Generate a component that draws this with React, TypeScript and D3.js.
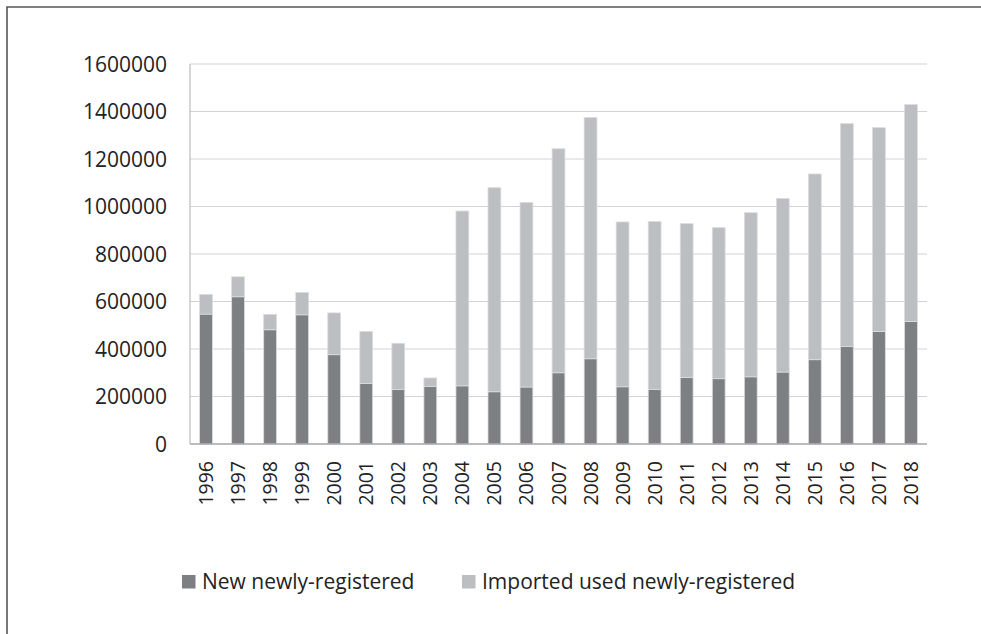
import React from "react";
import * as d3 from "d3";

const years = ["1996","1997","1998","1999","2000","2001","2002","2003","2004","2005","2006","2007","2008","2009","2010","2011","2012","2013","2014","2015","2016","2017","2018"];
const newReg = [547000,620000,481000,544000,376000,255000,229000,242000,245000,220000,240000,300000,359000,241000,229000,280000,275000,283000,303000,355000,411000,474000,516000];
const importedUsed = [83000,84000,65000,94000,176000,219000,195000,36000,736000,859000,777000,943000,1016000,694000,708000,648000,636000,691000,731000,782000,938000,858000,913000];
const yTicks = [0,200000,400000,600000,800000,1000000,1200000,1400000,1600000];
const seriesNames = ["New newly-registered", "Imported used newly-registered"];
const colors = ["#7e7f83", "#bdbec2"];

const W = 981, H = 634;
const M = { left: 190, right: 927, top: 64, bottom: 444 };
const FONT = "'Open Sans', 'Noto Sans', sans-serif";

export default function App() {
  const x = d3.scaleBand<string>().domain(years).range([M.left, M.right]).paddingInner(0.6).paddingOuter(0.3);
  const y = d3.scaleLinear().domain([0, 1600000]).range([M.bottom, M.top]);
  const stackData = years.map((yr, i) => ({ year: yr, a: newReg[i], b: importedUsed[i] }));
  const stacked = d3.stack<any>().keys(["a", "b"])(stackData);

  return (
    <div style={{ position: "fixed", left: 0, top: 0, width: W, height: H, background: "#fff" }}>
      <svg width={W} height={H} style={{ display: "block" }}>
        <rect x={0} y={0} width={W} height={H} fill="#fff" />
        <path d={`M7,${H + 5} L7,7 L${W + 5},7`} fill="none" stroke="#555" strokeWidth={1.6} />
        {yTicks.slice(1).map((t) => (
          <line key={t} x1={M.left} x2={M.right} y1={y(t)} y2={y(t)} stroke="#d3d3d3" strokeWidth={1.2} />
        ))}
        <line x1={M.left} x2={M.left} y1={M.top} y2={M.bottom} stroke="#bdbdbd" strokeWidth={1.2} />
        {stacked.map((s, si) => (
          <g key={si}>
            {s.map((d, i) => (
              <rect
                key={i}
                x={x(years[i])}
                width={x.bandwidth()}
                y={y(d[1])}
                height={y(d[0]) - y(d[1])}
                fill={colors[si]}
                stroke="#dcdcde"
                strokeWidth={0.8}
              />
            ))}
          </g>
        ))}
        <line x1={M.left} x2={M.right} y1={M.bottom} y2={M.bottom} stroke="#a6a6a6" strokeWidth={1.4} />
        {yTicks.map((t) => (
          <text key={t} x={167} y={y(t) + 7.5} textAnchor="end" fontFamily={FONT} fontSize={21} fill="#222">
            {t}
          </text>
        ))}
        {years.map((yr) => (
          <text
            key={yr}
            transform={`translate(${(x(yr) as number) + x.bandwidth() / 2},461) rotate(-90)`}
            textAnchor="end"
            dy="0.36em"
            fontFamily={FONT}
            fontSize={19.5}
            fill="#222"
          >
            {yr}
          </text>
        ))}
        {seriesNames.map((name, i) => {
          const sx = i === 0 ? 182 : 462;
          return (
            <g key={name}>
              <rect x={sx} y={575} width={13.5} height={13.5} fill={colors[i]} />
              <text x={sx + 20} y={589} fontFamily={FONT} fontSize={21} fill="#222">
                {name}
              </text>
            </g>
          );
        })}
      </svg>
    </div>
  );
}
